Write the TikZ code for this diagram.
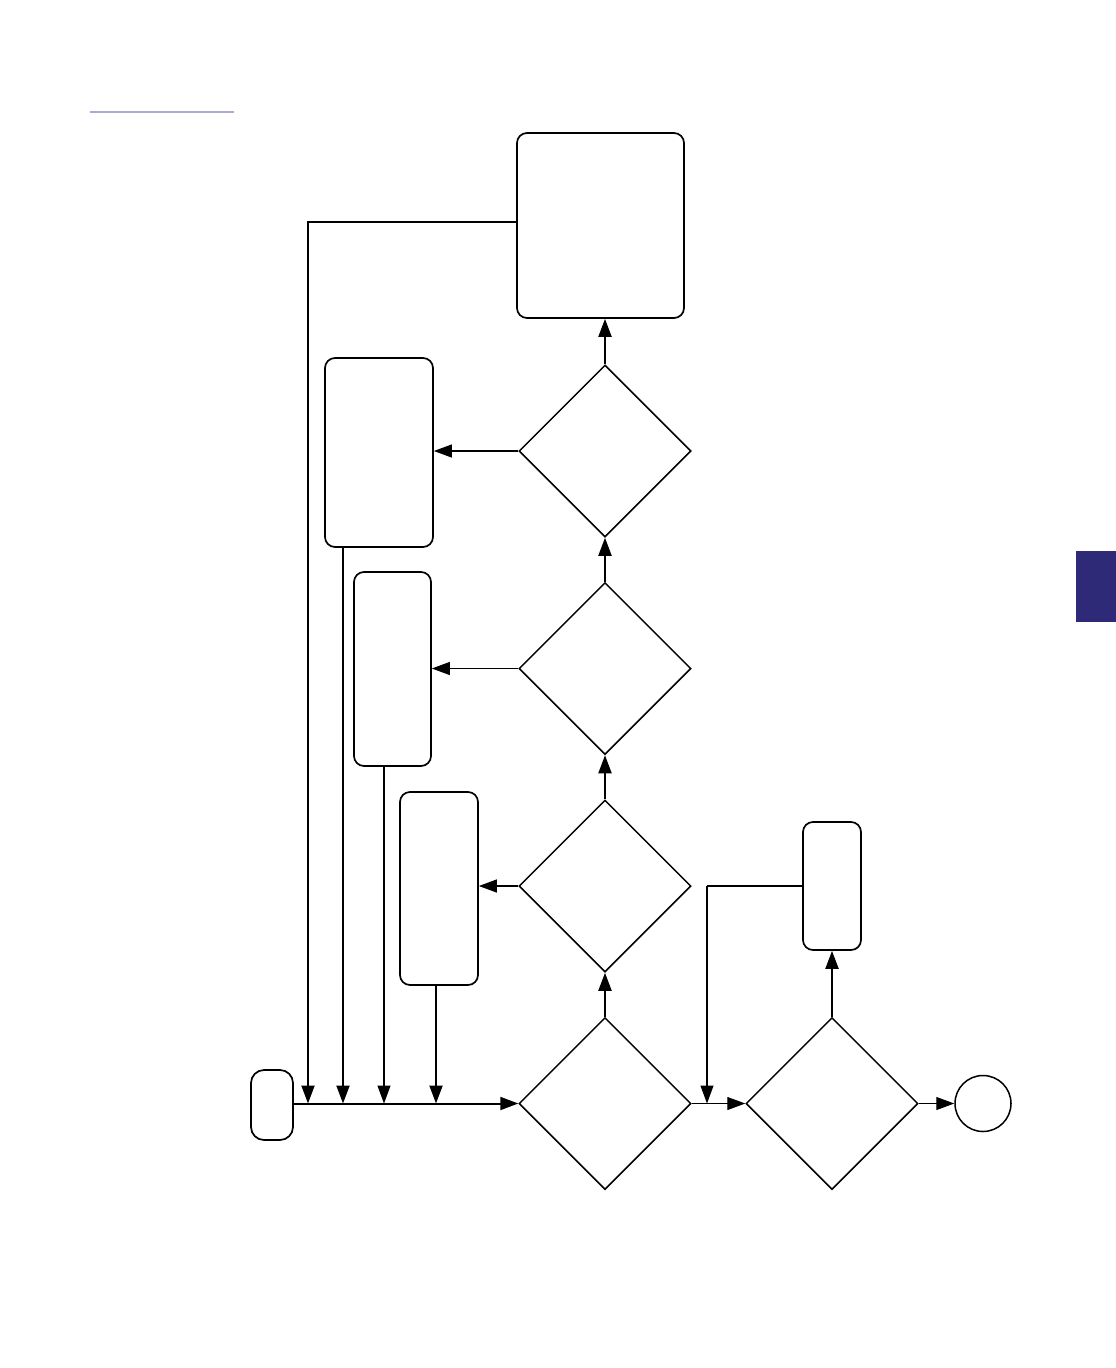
\documentclass[tikz,border=0pt]{standalone}
\usetikzlibrary{shapes.geometric,arrows.meta}
\definecolor{navy}{HTML}{2E2A78}
\definecolor{lav}{HTML}{A9ACD2}
\begin{document}
\begin{tikzpicture}[x=1pt,y=-1pt,
  box/.style={draw, line width=1.7pt, rounded corners=10pt, inner sep=0pt},
  dia/.style={draw, diamond, line width=1.5pt, minimum width=172pt, minimum height=172pt, inner sep=0pt},
  link/.style={line width=2pt},
  thin link/.style={line width=1.1pt},
  tip/.style={-{Triangle[length=18pt,width=13pt]}}]
\useasboundingbox (0,0) rectangle (1116,1368);
\fill[white] (0,0) rectangle (1116,1368);
% header line and tab
\draw[lav, line width=2.5pt] (90,112) -- (234,112);
\fill[navy] (1076,551) rectangle (1116,622);
% boxes
\node[box, minimum width=167pt, minimum height=185pt] (top) at (600.5,225.5) {};
\node[box, minimum width=108pt, minimum height=189pt] (b2) at (379,452.5) {};
\node[box, minimum width=77pt, minimum height=194pt] (b3) at (392.5,669) {};
\node[box, minimum width=78pt, minimum height=193pt] (b4) at (439,888.5) {};
\node[box, minimum width=58pt, minimum height=128pt] (br) at (832,886) {};
\node[box, rounded corners=13pt, minimum width=42pt, minimum height=70pt] (start) at (272,1105) {};
\node[draw, circle, line width=1.5pt, minimum size=56pt, inner sep=0pt] (end) at (983,1103.5) {};
% diamonds
\node[dia] (d1) at (605,451) {};
\node[dia] (d2) at (605,668.5) {};
\node[dia] (d3) at (605,886) {};
\node[dia] (d4) at (605,1103.5) {};
\node[dia] (d5) at (832,1103.5) {};
% helper coordinates
\coordinate (x308) at (308,0);
\coordinate (x343) at (343,0);
\coordinate (x384) at (384,0);
\coordinate (x436) at (436,0);
\coordinate (x707) at (707,0);
\coordinate (ytop) at (0,222);
\coordinate (ymain) at (0,1103.5);
\coordinate (yr) at (0,886);
% main line
\draw[link, tip] (start.east |- ymain) -- (d4.west);
% feedback lines
\draw[link, tip] (top.west |- ytop) -- (x308 |- ytop) -- (x308 |- ymain);
\draw[link, tip] (x343 |- b2.south) -- (x343 |- ymain);
\draw[thin link, tip] (x384 |- b3.south) -- (x384 |- ymain);
\draw[link, tip] (x436 |- b4.south) -- (x436 |- ymain);
% vertical chain
\draw[link, tip] (d4.north) -- (d3.south);
\draw[link, tip] (d3.north) -- (d2.south);
\draw[link, tip] (d2.north) -- (d1.south);
\draw[link, tip] (d1.north) -- (top.south -| d1.north);
% side branches
\draw[thin link, tip] (d1.west) -- (b2.east |- d1.west);
\draw[thin link, tip] (d2.west) -- (b3.east |- d2.west);
\draw[thin link, tip] (d3.west) -- (b4.east |- d3.west);
% right side
\draw[thin link, tip] (d4.east) -- (d5.west);
\draw[link] (br.west |- yr) -- (x707 |- yr);
\draw[thin link, tip] (x707 |- yr) -- (x707 |- ymain);
\draw[link, tip] (d5.north) -- (br.south -| d5.north);
\draw[thin link, tip] (d5.east) -- (end.west);
\end{tikzpicture}
\end{document}
